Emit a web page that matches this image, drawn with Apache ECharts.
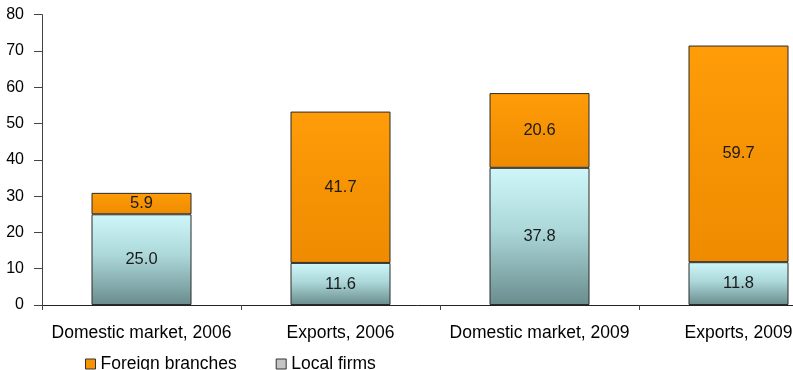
<!DOCTYPE html>
<html>
<head>
<meta charset="utf-8">
<script src="https://cdn.jsdelivr.net/npm/echarts@6/dist/echarts.min.js"></script>
<style>
  html, body { margin: 0; padding: 0; background: #fff; }
  #chart { width: 793px; height: 370px; }
</style>
</head>
<body>
<div id="chart"></div>
<script>
// Market categories and the two stacked components
const categories = ['Domestic market, 2006', 'Exports, 2006', 'Domestic market, 2009', 'Exports, 2009'];
const localFirms = [25.0, 11.6, 37.8, 11.8];
const foreignBranches = [5.9, 41.7, 20.6, 59.7];
const yTicks = [0, 10, 20, 30, 40, 50, 60, 70, 80];

const chart = echarts.init(document.getElementById('chart'), null, { renderer: 'canvas' });

const font = 'Arial, "Liberation Sans", sans-serif';

const localGradient = new echarts.graphic.LinearGradient(0, 0, 0, 1, [
  { offset: 0, color: '#cff7f9' },
  { offset: 0.45, color: '#acd8da' },
  { offset: 1, color: '#6a8c8d' }
]);
const foreignGradient = new echarts.graphic.LinearGradient(0, 0, 0, 1, [
  { offset: 0, color: '#ff9c08' },
  { offset: 1, color: '#ee8b00' }
]);

const segLabel = {
  show: true,
  position: 'inside',
  color: '#1a1a1a',
  fontFamily: font,
  fontSize: 16.5,
  formatter: p => p.value.toFixed(1)
};

chart.setOption({
  animation: false,
  backgroundColor: '#ffffff',
  grid: {
    left: 42, top: 14.7, width: 796, bottom: 65,
    containLabel: false,
    outerBoundsMode: 'none'
  },
  legend: {
    left: 85,
    top: 355,
    padding: 0,
    itemWidth: 10,
    itemHeight: 10,
    itemGap: 39,
    textStyle: { fontFamily: font, fontSize: 17.5, color: '#000' },
    data: [
      { name: 'Foreign branches', icon: 'rect', itemStyle: { color: '#f89400', borderColor: '#333', borderWidth: 1 } },
      { name: 'Local firms', icon: 'rect', itemStyle: { color: '#c4c4c4', borderColor: '#333', borderWidth: 1 } }
    ]
  },
  xAxis: {
    type: 'category',
    data: categories,
    boundaryGap: true,
    axisLine: { lineStyle: { color: '#222', width: 1 } },
    axisTick: { show: true, length: 5, alignWithLabel: false, lineStyle: { color: '#444' } },
    axisLabel: { fontFamily: font, fontSize: 17.5, color: '#000', margin: 19, interval: 0 },
    splitLine: { show: false }
  },
  yAxis: {
    type: 'value',
    min: yTicks[0],
    max: yTicks[yTicks.length - 1],
    interval: 10,
    axisLine: { show: true, lineStyle: { color: '#444', width: 1 } },
    axisTick: { show: true, length: 8, lineStyle: { color: '#444' } },
    axisLabel: { fontFamily: font, fontSize: 16, color: '#000', margin: 18 },
    splitLine: { show: false }
  },
  series: [
    {
      name: 'Local firms',
      type: 'bar',
      stack: 'total',
      barWidth: 100,
      data: localFirms,
      itemStyle: { color: localGradient, borderColor: '#2b2b2b', borderWidth: 1 },
      label: segLabel
    },
    {
      name: 'Foreign branches',
      type: 'bar',
      stack: 'total',
      barWidth: 100,
      data: foreignBranches,
      itemStyle: { color: foreignGradient, borderColor: '#2b2b2b', borderWidth: 1 },
      label: segLabel
    }
  ]
});
</script>
</body>
</html>
